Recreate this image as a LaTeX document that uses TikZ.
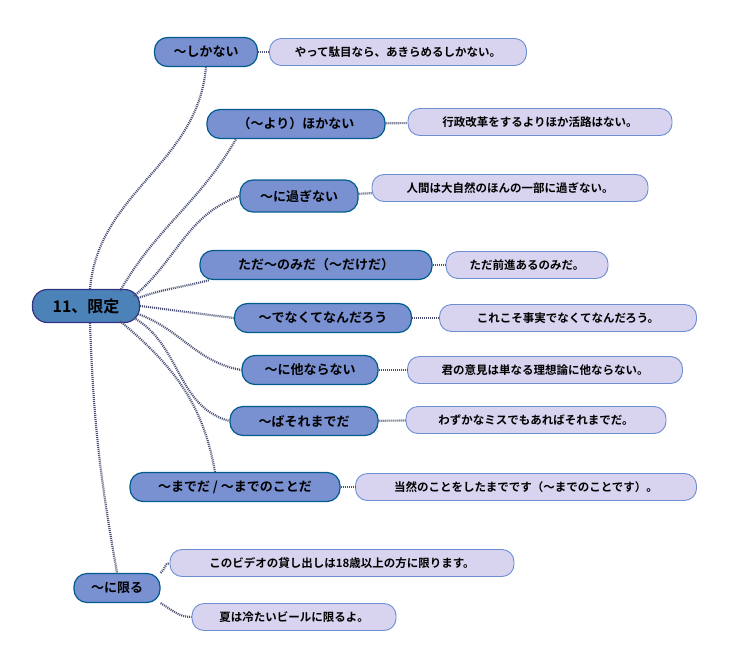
\documentclass[tikz,border=0pt]{standalone}
\usepackage{fontspec}
\setmainfont{Noto Sans CJK JP}[BoldFont={Noto Sans CJK JP Bold}]
\begin{document}
\begin{tikzpicture}[x=1pt,y=-1pt,
  lvl/.style={draw=black!20!blue!40!cyan!60!black,line width=1.2pt,fill=cyan!35!blue!55,rounded corners=13pt,minimum height=29pt,inner xsep=12pt,font=\fontsize{13}{13}\selectfont\bfseries},
  ex/.style={draw=cyan!40!blue!60,line width=0.9pt,fill=cyan!10!blue!15,rounded corners=12pt,minimum height=27pt,inner xsep=10pt,font=\fontsize{11.5}{12}\selectfont\bfseries},
  lk/.style={draw=cyan!30!blue!50!black,line width=2.2pt,dash pattern=on 1pt off 1pt}]
\useasboundingbox (0,0) rectangle (735,666);
\node[lvl,fill=cyan!60!blue!80!black!85,draw=blue!40!black!80,minimum height=33pt,rounded corners=15pt,font=\fontsize{16}{16}\selectfont\bfseries,minimum width=107pt] (r) at (86,306) {11、限定};
\node[lvl,minimum width=103pt] (a1) at (206,52) {～しかない};
\node[ex,minimum width=257pt] (e1) at (398,52) {やって駄目なら、あきらめるしかない。};
\node[lvl,minimum width=178pt] (a2) at (296,124) {（～より）ほかない};
\node[ex,minimum width=264pt] (e2) at (540,122) {行政改革をするよりほか活路はない。};
\node[lvl,minimum width=118pt,minimum height=32pt] (a3) at (299,196) {～に過ぎない};
\node[ex,minimum width=276pt] (e3) at (510,188) {人間は大自然のほんの一部に過ぎない。};
\node[lvl,minimum width=232pt] (a4) at (316,265) {ただ～のみだ（～だけだ）};
\node[ex,minimum width=162pt] (e4) at (527,265) {ただ前進あるのみだ。};
\node[lvl,minimum width=177pt] (a5) at (323,318) {～でなくてなんだろう};
\node[ex,minimum width=257pt] (e5) at (568,318) {これこそ事実でなくてなんだろう。};
\node[lvl,minimum width=136pt] (a6) at (310,370) {～に他ならない};
\node[ex,minimum width=275pt] (e6) at (545,370) {君の意見は単なる理想論に他ならない。};
\node[lvl,minimum width=148pt] (a7) at (304,421) {～ばそれまでだ};
\node[ex,minimum width=260pt] (e7) at (536,420) {わずかなミスでもあればそれまでだ。};
\node[lvl,minimum width=210pt] (a8) at (235,487) {～までだ / ～までのことだ};
\node[ex,minimum width=341pt] (e8) at (526,487) {当然のことをしたまでです（～までのことです）。};
\node[lvl,minimum width=86pt] (a9) at (117,588) {～に限る};
\node[ex,minimum width=344pt] (e9) at (342,563) {このビデオの貸し出しは18歳以上の方に限ります。};
\node[ex,minimum width=204pt] (e10) at (294,617) {夏は冷たいビールに限るよ。};
\begin{scope}[on background layer/.try]
\end{scope}
\draw[lk] (r.north) ++(4,0) to[out=85,in=-95] (a1.south);
\draw[lk] (r.north east) ++(-20,2) to[out=60,in=-120] ([xshift=-60pt]a2.south);
\draw[lk] (r.east) ++(-6,-10) to[out=40,in=-160] (a3.west);
\draw[lk] (r.east) ++(-2,-8) to[out=20,in=-165] ([xshift=10pt]a4.south west);
\draw[lk] (r.east) -- (a5.west);
\draw[lk] (r.east) ++(-2,8) to[out=-20,in=170] (a6.west);
\draw[lk] (r.east) ++(-6,12) to[out=-30,in=165] (a7.west);
\draw[lk] (r.south east) ++(-20,-2) to[out=-40,in=100] ([xshift=-20pt]a8.north);
\draw[lk] (r.south) ++(4,0) to[out=-88,in=100] (a9.north);
\draw[lk] (a1) -- (e1); \draw[lk] (a2) -- (e2); \draw[lk] (a3) -- (e3);
\draw[lk] (a4) -- (e4); \draw[lk] (a5) -- (e5); \draw[lk] (a6) -- (e6);
\draw[lk] (a7) -- (e7); \draw[lk] (a8) -- (e8);
\draw[lk] (a9.north east) to[out=30,in=180] (e9.west);
\draw[lk] (a9.south east) to[out=-30,in=180] (e10.west);
\end{tikzpicture}
\end{document}
